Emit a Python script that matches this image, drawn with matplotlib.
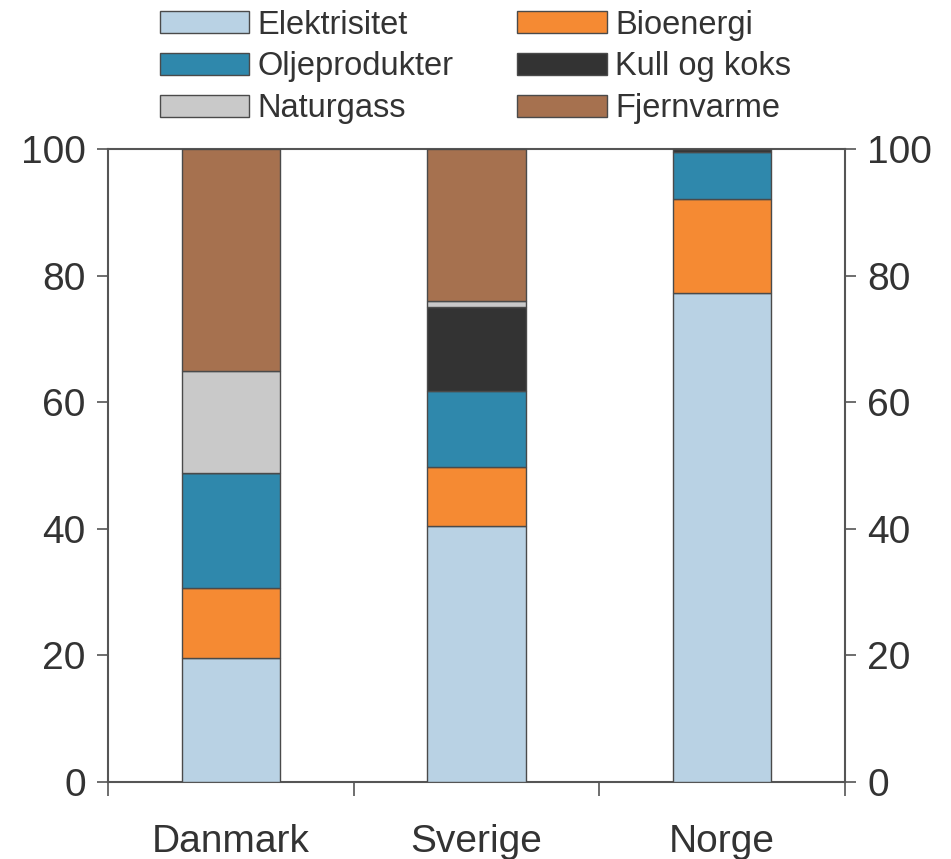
import numpy as np
import matplotlib.pyplot as plt
from matplotlib.ticker import FixedLocator, NullFormatter

#==================data==================
countries = ["Danmark", "Sverige", "Norge"]
elektrisitet = [19.6, 40.5, 77.2]
bioenergi = [11.0, 9.3, 14.9]
oljeprodukter = [18.2, 12.0, 7.5]
kull_og_koks = [0.0, 13.2, 0.4]
naturgass = [16.2, 1.0, 0.0]
fjernvarme = [35.0, 24.0, 0.0]

series = [
    ("Elektrisitet", elektrisitet, "#b9d2e4"),
    ("Bioenergi", bioenergi, "#f58a33"),
    ("Oljeprodukter", oljeprodukter, "#2f88ac"),
    ("Kull og koks", kull_og_koks, "#333333"),
    ("Naturgass", naturgass, "#c9c9c9"),
    ("Fjernvarme", fjernvarme, "#a6714f"),
]
legend_order = ["Elektrisitet", "Oljeprodukter", "Naturgass",
                "Bioenergi", "Kull og koks", "Fjernvarme"]

plt.rcParams["font.family"] = ["Liberation Sans", "DejaVu Sans"]
axcol = "#555555"

fig = plt.figure(figsize=(9.51, 8.59), dpi=100)
ax = fig.add_axes([0.1136, 0.0896, 0.7749, 0.7369])

x = np.arange(len(countries))
bottom = np.zeros(len(countries))
handles = {}
for name, vals, col in series:
    vals = np.array(vals)
    b = ax.bar(x, vals, width=0.40, bottom=bottom, color=col,
               edgecolor="#4a4a4a", linewidth=1.0, label=name, zorder=3)
    handles[name] = b
    bottom += vals

ax.set_xlim(-0.5, 2.5)
ax.set_ylim(0, 100)

# y axis on both sides
ax.set_yticks([0, 20, 40, 60, 80, 100])
ax.tick_params(axis="y", which="major", direction="out", length=8, width=1.2,
               color=axcol, labelsize=28, labelcolor="#333333", pad=8,
               left=True, right=True, labelleft=True, labelright=True)

# x axis: labels at centers, ticks at boundaries
ax.set_xticks(x)
ax.set_xticklabels(countries)
ax.tick_params(axis="x", which="major", length=0, labelsize=28,
               labelcolor="#333333", pad=30)
ax.xaxis.set_minor_locator(FixedLocator([-0.5, 0.5, 1.5, 2.5]))
ax.xaxis.set_minor_formatter(NullFormatter())
ax.tick_params(axis="x", which="minor", direction="out", length=10,
               width=1.2, color=axcol)

for s in ["left", "right", "top", "bottom"]:
    ax.spines[s].set_color(axcol)
    ax.spines[s].set_linewidth(1.5)

leg = fig.legend([handles[n] for n in legend_order], legend_order,
                 loc="upper left", bbox_to_anchor=(0.154, 1.004), ncol=2,
                 frameon=False, fontsize=23.5, handlelength=2.75,
                 handleheight=0.65, handletextpad=0.25, labelspacing=0.33,
                 columnspacing=1.95, borderaxespad=0.0)
for t in leg.get_texts():
    t.set_color("#333333")

fig.savefig("out.png", dpi=100)
